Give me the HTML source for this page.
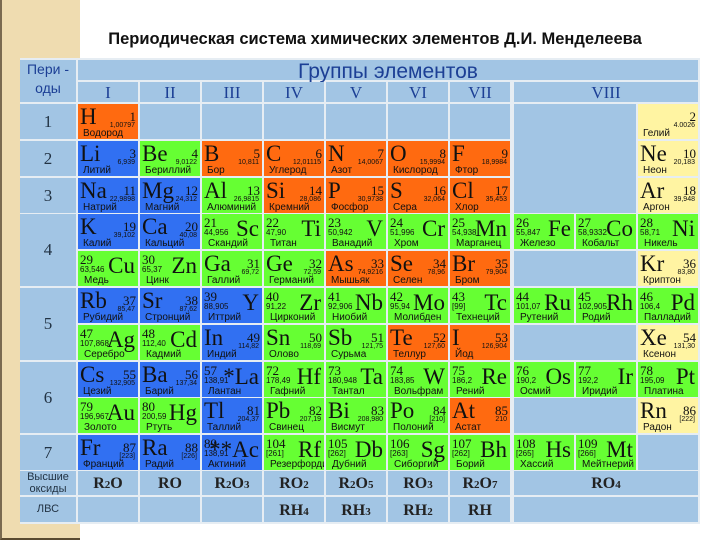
<!DOCTYPE html>
<html><head><meta charset="utf-8">
<style>
body{margin:0;width:720px;height:540px;position:relative;background:#fff;overflow:hidden;font-family:"Liberation Sans","DejaVu Sans",sans-serif}
.abs{position:absolute;box-sizing:border-box}
.cell{position:absolute;overflow:hidden}
.sym{position:absolute;font-family:"Liberation Serif",serif;font-size:23px;line-height:23px;color:#111}
.num{position:absolute;font-family:"Liberation Serif",serif;font-size:13px;line-height:13px;color:#111}
.mass{position:absolute;font-size:7px;line-height:8px;color:#111}
.nm{position:absolute;font-size:10px;line-height:11px;color:#111;white-space:nowrap}
.hd{position:absolute;background:#a2c5e4;color:#1c3f95;text-align:center}
.ox{position:absolute;background:#a2c5e4;font-family:"Liberation Serif",serif;font-weight:bold;font-size:16px;color:#222;text-align:center}
</style></head><body>
<div class="abs" style="left:0;top:0;width:80px;height:540px;background:#efdcb0;border-left:2px solid #7a6a50;border-bottom:2px solid #5a4a30"></div>
<div class="abs" style="left:20px;top:58px;width:680px;height:466px;background:#e6edf3"></div>
<div class="abs" style="left:40px;top:30px;width:670px;text-align:center;font-weight:bold;font-size:16.5px;color:#111">Периодическая система химических элементов Д.И. Менделеева</div>
<div class="hd" style="left:78px;top:60px;width:620px;height:20px;font-size:21px;line-height:24px">Группы элементов</div>
<div class="hd" style="left:20px;top:60px;width:56px;height:42px;font-size:14px;line-height:19px">Пери -<br>оды</div>
<div id="t"></div>
<script>
const groupLabels=["I","II","III","IV","V","VI","VII","VIII"];
const periodLabels=["1","2","3","4","5","6","7"];
const periodRows=[[0,0],[1,1],[2,2],[3,4],[5,6],[7,8],[9,9]];
const oxides=["R2O","RO","R2O3","RO2","R2O5","RO3","R2O7","RO4"];
const hydrides=["","","","RH4","RH3","RH2","RH",""];
// [row, col(1-10), symbol, number, mass, name, color, layout]
const elements=[
[0,1,"H","1","1,00797","Водород","o","L"],[0,10,"","2","4.0026","Гелий","y","L"],
[1,1,"Li","3","6,939","Литий","b","L"],[1,2,"Be","4","9,0122","Бериллий","g","L"],[1,3,"B","5","10,811","Бор","o","L"],[1,4,"C","6","12,01115","Углерод","o","L"],[1,5,"N","7","14,0067","Азот","o","L"],[1,6,"O","8","15,9994","Кислород","o","L"],[1,7,"F","9","18,9984","Фтор","o","L"],[1,10,"Ne","10","20,183","Неон","y","L"],
[2,1,"Na","11","22,9898","Натрий","b","L"],[2,2,"Mg","12","24,312","Магний","b","L"],[2,3,"Al","13","26,9815","Алюминий","g","L"],[2,4,"Si","14","28,086","Кремний","o","L"],[2,5,"P","15","30,9738","Фосфор","o","L"],[2,6,"S","16","32,064","Сера","o","L"],[2,7,"Cl","17","35,453","Хлор","o","L"],[2,10,"Ar","18","39,948","Аргон","y","L"],
[3,1,"K","19","39,102","Калий","b","L"],[3,2,"Ca","20","40,08","Кальций","b","L"],[3,3,"Sc","21","44,956","Скандий","g","R"],[3,4,"Ti","22","47,90","Титан","g","R"],[3,5,"V","23","50,942","Ванадий","g","R"],[3,6,"Cr","24","51,996","Хром","g","R"],[3,7,"Mn","25","54,938","Марганец","g","R"],[3,8,"Fe","26","55,847","Железо","g","R"],[3,9,"Co","27","58,9332","Кобальт","g","R"],[3,10,"Ni","28","58,71","Никель","g","R"],
[4,1,"Cu","29","63,546","Медь","g","R"],[4,2,"Zn","30","65,37","Цинк","g","R"],[4,3,"Ga","31","69,72","Галлий","g","L"],[4,4,"Ge","32","72,59","Германий","g","L"],[4,5,"As","33","74,9216","Мышьяк","o","L"],[4,6,"Se","34","78,96","Селен","o","L"],[4,7,"Br","35","79,904","Бром","o","L"],[4,10,"Kr","36","83,80","Криптон","y","L"],
[5,1,"Rb","37","85,47","Рубидий","b","L"],[5,2,"Sr","38","87,62","Стронций","b","L"],[5,3,"Y","39","88,905","Иттрий","b","R"],[5,4,"Zr","40","91,22","Цирконий","g","R"],[5,5,"Nb","41","92,906","Ниобий","g","R"],[5,6,"Mo","42","95,94","Молибден","g","R"],[5,7,"Tc","43","[99]","Технеций","g","R"],[5,8,"Ru","44","101,07","Рутений","g","R"],[5,9,"Rh","45","102,905","Родий","g","R"],[5,10,"Pd","46","106,4","Палладий","g","R"],
[6,1,"Ag","47","107,868","Серебро","g","R"],[6,2,"Cd","48","112,40","Кадмий","g","R"],[6,3,"In","49","114,82","Индий","b","L"],[6,4,"Sn","50","118,69","Олово","g","L"],[6,5,"Sb","51","121,75","Сурьма","g","L"],[6,6,"Te","52","127,60","Теллур","o","L"],[6,7,"I","53","126,904","Йод","o","L"],[6,10,"Xe","54","131,30","Ксенон","y","L"],
[7,1,"Cs","55","132,905","Цезий","b","L"],[7,2,"Ba","56","137,34","Барий","b","L"],[7,3,"*La","57","138,91","Лантан","b","R"],[7,4,"Hf","72","178,49","Гафний","g","R"],[7,5,"Ta","73","180,948","Тантал","g","R"],[7,6,"W","74","183,85","Вольфрам","g","R"],[7,7,"Re","75","186,2","Рений","g","R"],[7,8,"Os","76","190,2","Осмий","g","R"],[7,9,"Ir","77","192,2","Иридий","g","R"],[7,10,"Pt","78","195,09","Платина","g","R"],
[8,1,"Au","79","196,967","Золото","g","R"],[8,2,"Hg","80","200,59","Ртуть","g","R"],[8,3,"Tl","81","204,37","Таллий","b","L"],[8,4,"Pb","82","207,19","Свинец","g","L"],[8,5,"Bi","83","208,980","Висмут","g","L"],[8,6,"Po","84","[210]","Полоний","g","L"],[8,7,"At","85","210","Астат","o","L"],[8,10,"Rn","86","[222]","Радон","y","L"],
[9,1,"Fr","87","[223]","Франций","b","L"],[9,2,"Ra","88","[226]","Радий","b","L"],[9,3,"**Ac","89","138,91","Актиний","b","R"],[9,4,"Rf","104","[261]","Резерфордий","g","R"],[9,5,"Db","105","[262]","Дубний","g","R"],[9,6,"Sg","106","[263]","Сиборгий","g","R"],[9,7,"Bh","107","[262]","Борий","g","R"],[9,8,"Hs","108","[265]","Хассий","g","R"],[9,9,"Mt","109","[266]","Мейтнерий","g","R"]
];
const colors={b:"#3170f2",g:"#66ff33",o:"#ff6a10",y:"#fff4a2"};
const T=document.getElementById('t');
function colX(c){ if(c<=7) return 78+(c-1)*62; return 514+(c-8)*62; }
function colW(c){ return c<=7?60:(c==10?60:60); }
function rowY(r){ return 104+r*36.8; }
function div(cls,x,y,w,h,bg){const d=document.createElement('div');d.className=cls;d.style.left=x+'px';d.style.top=y+'px';if(w!=null)d.style.width=w+'px';if(h!=null)d.style.height=h+'px';if(bg)d.style.background=bg;T.appendChild(d);return d;}
// group numeral headers
groupLabels.forEach((g,i)=>{
  const x=i<7?colX(i+1):514; const w=i<7?60:184;
  const d=div('hd',x,82,w,20);
  d.style.fontFamily='"Liberation Serif",serif';d.style.fontSize='17px';d.style.lineHeight='21px';d.textContent=g;
  
  
});
// period labels
periodLabels.forEach((p,i)=>{
  const [a,b]=periodRows[i]; const y=rowY(a); const h=rowY(b)+35-y;
  const d=div('hd',20,y,56,h);
  d.style.fontFamily='"Liberation Serif",serif';d.style.fontSize='17px';d.style.lineHeight=h+'px';d.style.color='#234';d.textContent=p;
  
  
});
// empty gray slots
const filled=new Set(elements.map(e=>e[0]+'_'+e[1]));
for(let r=0;r<10;r++){for(let c=1;c<=10;c++){
  if(filled.has(r+'_'+c))continue;
  if(c>=8&&c<=9&&[0,1,2,4,6,8].includes(r))continue;
  const d=div('cell',colX(c),rowY(r),colW(c),35,'#a2c5e4');
  
  
}}
// merged VIII empty blocks
[[0,2],[4,4],[6,6],[8,8]].forEach(([a,b])=>{
  const d=div('cell',514,rowY(a),122,rowY(b)+35-rowY(a),'#a2c5e4');
  
  
});
// element cells
elements.forEach(e=>{
  const [r,c,sym,num,mass,name,col,lay]=e;
  const x=colX(c),y=rowY(r),w=colW(c);
  const d=div('cell',x,y,w,35,colors[col]);
  
  
  const s=document.createElement('div');s.className='sym';s.textContent=sym;
  const n=document.createElement('div');n.className='num';n.textContent=num;
  const m=document.createElement('div');m.className='mass';m.textContent=mass;
  const nm=document.createElement('div');nm.className='nm';nm.textContent=name;
  if(lay==='L'){
    s.style.left='2px';s.style.top='1px';
    n.style.right='2px';n.style.top='6px';
    m.style.right='3px';m.style.top='18px';
    nm.style.left='5px';nm.style.top='24px';
  } else {
    n.style.left='2px';n.style.top='2px';
    s.style.right='3px';s.style.top='3px';
    m.style.left='2px';m.style.top='15px';m.style.fontSize='8px';
    nm.style.left='6px';nm.style.top='24px';
  }
  d.appendChild(s);d.appendChild(n);d.appendChild(m);d.appendChild(nm);
});
// bottom rows
const oy=471, hy=497;
let d0=div('hd',20,oy,56,24);d0.style.fontSize='11px';d0.style.lineHeight='12px';d0.style.color='#234';d0.innerHTML='Высшие<br>оксиды';


let d1=div('hd',20,hy,56,25);d1.style.fontSize='11px';d1.style.lineHeight='25px';d1.style.color='#234';d1.textContent='ЛВС';


function fmt(s){return s.replace(/(\d)/g,'<span style="font-size:11px">$1</span>');}
oxides.forEach((o,i)=>{
  const x=i<7?colX(i+1):514, w=i<7?60:184;
  const a=div('ox',x,oy,w,24);a.style.lineHeight='26px';a.innerHTML=fmt(o);
  
  
  const b=div('ox',x,hy,w,25);b.style.lineHeight='27px';b.innerHTML=fmt(hydrides[i]);
  
  
});
</script>
</body></html>
